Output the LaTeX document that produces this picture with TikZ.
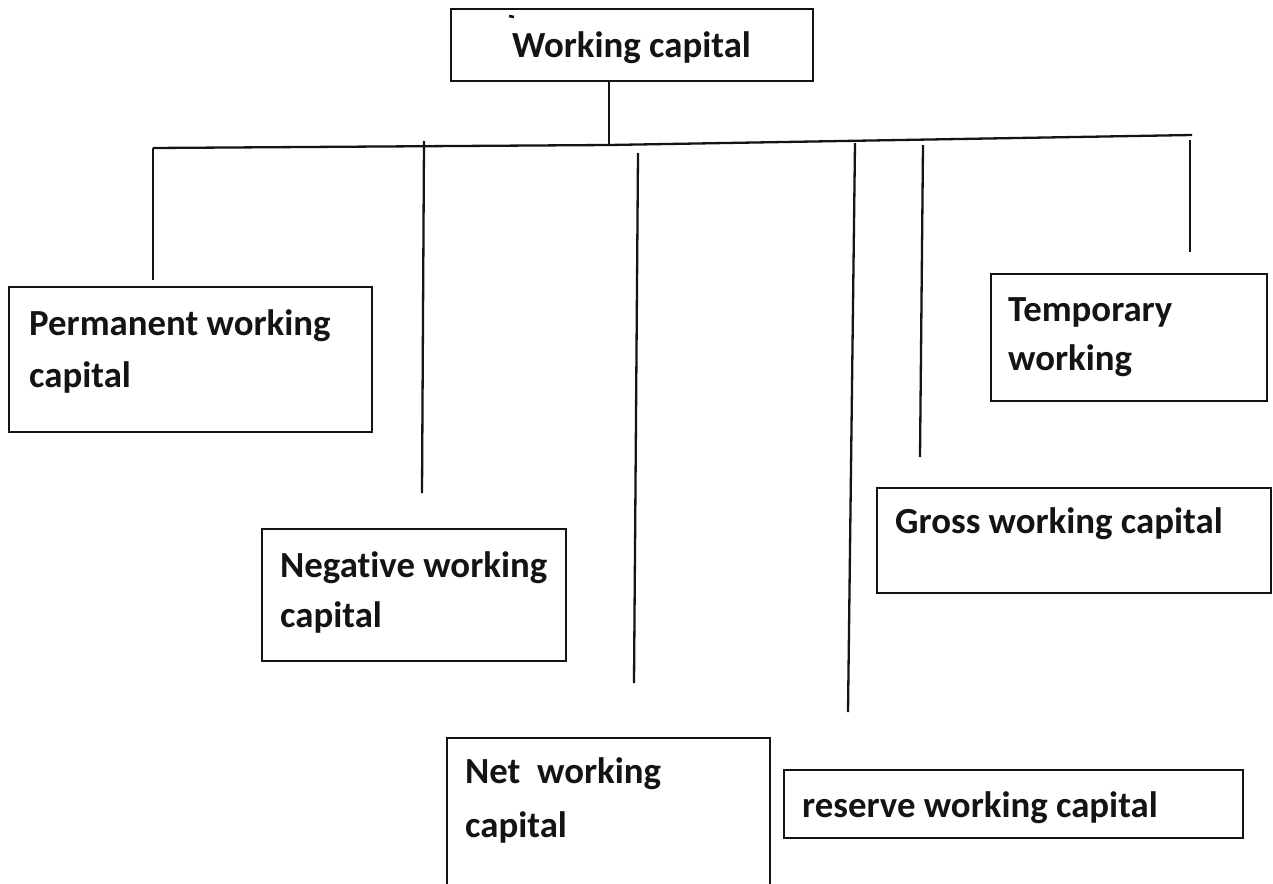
\documentclass[tikz,border=0pt]{standalone}
\usepackage{fontspec}
\setmainfont{Carlito}[Ligatures=NoCommon]
\definecolor{ink}{HTML}{141414}
\begin{document}
\begin{tikzpicture}[x=1pt,y=-1pt,
  box/.style={draw=ink,line width=2.4pt,rectangle,inner sep=0pt,anchor=north west},
  lbl/.style={inner sep=0pt,anchor=base west,text=ink,
    font=\fontsize{36.8}{44}\selectfont\bfseries},
  wire/.style={draw=ink,line width=2.3pt}]
\useasboundingbox[fill=white] (0,0) rectangle (1273,883);

% boxes
\node[box,minimum width=362pt,minimum height=72pt] (wc) at (450,8) {};
\node[box,minimum width=363pt,minimum height=145pt] (perm) at (8,286) {};
\node[box,minimum width=304pt,minimum height=132pt] (neg) at (261,528) {};
\node[box,minimum width=323pt,minimum height=160pt] (net) at (446,737) {};
\node[box,minimum width=459pt,minimum height=68pt] (res) at (783,769) {};
\node[box,minimum width=394pt,minimum height=105pt] (gross) at (876,487) {};
\node[box,minimum width=276pt,minimum height=127pt] (temp) at (990,273) {};

% labels
\node[lbl] (wcT) at (512,57) {Working capital};
\draw[ink,line width=2.6pt] (509,16) -- (514,17);
\node[lbl] (permT1) at (29,335) {Permanent working};
\node[lbl] (permT2) at (29,387) {capital};
\node[lbl] (negT1) at (280,577) {Negative working};
\node[lbl] (negT2) at (280,627) {capital};
\node[lbl] (netT1) at (465,783) {Net\ \ working};
\node[lbl] (netT2) at (465,837) {capital};
\node[lbl] (tempT1) at (1008,321) {Temporary};
\node[lbl] (tempT2) at (1008,370) {working};
\node[lbl] (grossT) at (895,533) {Gross working capital};
\node[lbl] (resT) at (802,817) {reserve working capital};

% bus and branch points
\coordinate (busL) at (153,148);
\coordinate (busM) at (609,145);
\coordinate (busR) at (1192,135);
\draw[wire] (wc.south -| busM) -- (busM);
\draw[wire] (busL) -- (busM) -- (busR);

% drops towards each kind of working capital
\coordinate (permEnd) at (153,280);
\coordinate (negTop) at (424,141);   \coordinate (negEnd) at (422,493);
\coordinate (netTop) at (638,153);   \coordinate (netEnd) at (634,683);
\coordinate (resTop) at (855,143);   \coordinate (resEnd) at (848,712);
\coordinate (grossTop) at (923,145); \coordinate (grossEnd) at (920,457);
\coordinate (tempTop) at (1190,140); \coordinate (tempEnd) at (1190,252);
\draw[wire] (busL) -- (permEnd);
\draw[wire] (negTop) -- (negEnd);
\draw[wire] (netTop) -- (netEnd);
\draw[wire] (resTop) -- (resEnd);
\draw[wire] (grossTop) -- (grossEnd);
\draw[wire] (tempTop) -- (tempEnd);
\end{tikzpicture}
\end{document}
